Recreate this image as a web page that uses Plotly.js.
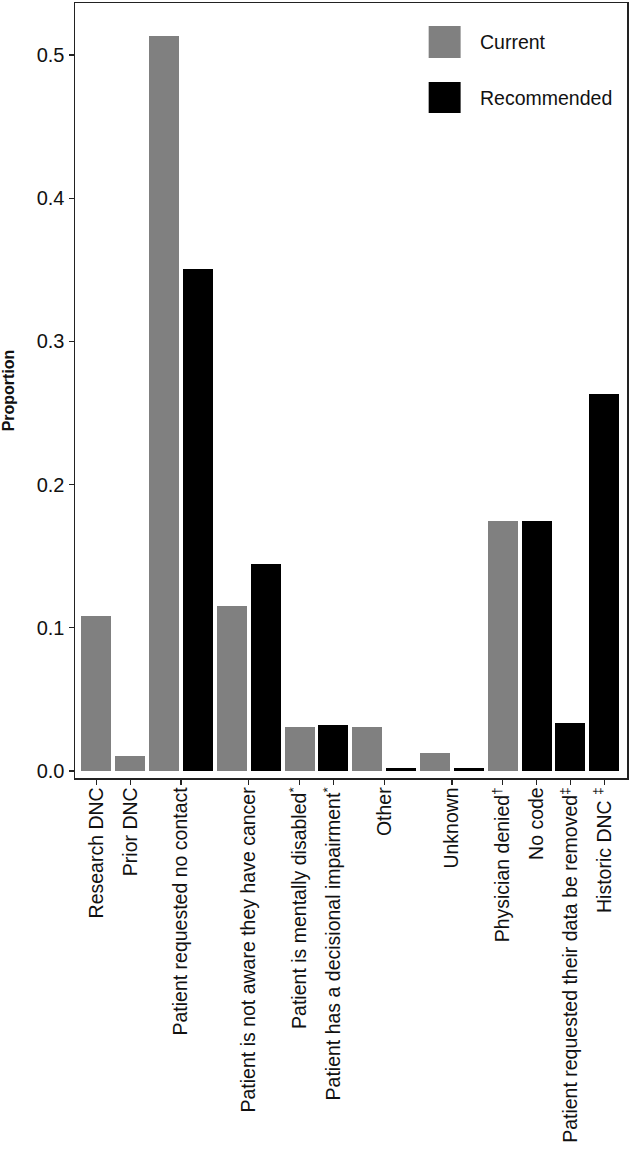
<!DOCTYPE html>
<html>
<head>
<meta charset="utf-8">
<script src="https://cdn.plot.ly/plotly-3.0.1.min.js"></script>
<style>html,body{margin:0;padding:0;background:#fff;}#chart{width:639px;height:1159px;}</style>
</head>
<body>
<div id="chart"></div>
<script>
// Categories (x tick labels)
const categories = [
  "Research DNC",
  "Prior DNC",
  "Patient requested no contact",
  "Patient is not aware they have cancer",
  "Patient is mentally disabled<sup>*</sup>",
  "Patient has a decisional impairment<sup>*</sup>",
  "Other",
  "Unknown",
  "Physician denied<sup>\u2020</sup>",
  "No code",
  "Patient requested their data be removed<sup>\u2021</sup>",
  "Historic DNC <sup>\u2021</sup>"
];
// Series values (null = series has no bar for that category)
const seriesNames = ["Current", "Recommended"];
const current =     [0.108, 0.0105, 0.513, 0.1155, 0.031, null,  0.031, 0.0128, 0.1746, null,   null,   null];
const recommended = [null,  null,   0.3505, 0.1443, null,  0.032, 0.002, 0.002,  null,   0.1746, 0.0337, 0.2633];
const seriesColors = ["#808080", "#000000"];

// Assign consecutive bar slots from the data
const seriesVals = [current, recommended];
const slotX = [[], []], slotY = [[], []];
const tickVals = [];
let slot = 0;
categories.forEach((c, i) => {
  const used = [];
  seriesVals.forEach((vals, s) => {
    if (vals[i] !== null) {
      slotX[s].push(slot); slotY[s].push(vals[i]); used.push(slot); slot++;
    }
  });
  tickVals.push(used.reduce((a, b) => a + b, 0) / used.length);
});

const font = "Liberation Sans, Arial, sans-serif";
const traces = seriesVals.map((v, s) => ({
  type: "bar",
  name: seriesNames[s],
  x: slotX[s],
  y: slotY[s],
  width: 0.885,
  marker: {color: seriesColors[s], line: {width: 0}},
  showlegend: false,
  hoverinfo: "y"
}));

// Custom legend (large swatches)
const legY = [[0.929, 0.9703], [0.858, 0.898]];
const shapes = seriesNames.map((n, s) => ({
  type: "rect", xref: "paper", yref: "paper",
  x0: 0.6407, x1: 0.6986, y0: legY[s][0], y1: legY[s][1],
  fillcolor: seriesColors[s], line: {width: 0}
}));
const annotations = seriesNames.map((n, s) => ({
  xref: "paper", yref: "paper", x: 0.7294, y: (legY[s][0] + legY[s][1]) / 2,
  xanchor: "left", yanchor: "middle", text: n, showarrow: false,
  font: {family: font, size: 19.5, color: "#111"}
}));

const layout = {
  width: 639, height: 1159,
  margin: {l: 75, r: 11.5, t: 3, b: 381},
  paper_bgcolor: "#fff", plot_bgcolor: "#fff",
  font: {family: font, color: "#111"},
  bargap: 0,
  xaxis: {
    range: [-0.63, 15.67],
    tickvals: tickVals, ticktext: categories,
    tickangle: -90,
    ticks: "outside", ticklen: 5, tickwidth: 1.2, tickcolor: "#222",
    ticklabelstandoff: -5,
    showline: true, linecolor: "#222", linewidth: 1.5, mirror: true,
    showgrid: false, zeroline: false,
    tickfont: {family: font, size: 19.5, color: "#111"}
  },
  yaxis: {
    range: [-0.0049, 0.5363],
    tickvals: [0, 0.1, 0.2, 0.3, 0.4, 0.5],
    tickformat: ".1f",
    ticks: "outside", ticklen: 5, tickwidth: 1.2, tickcolor: "#222",
    showline: true, linecolor: "#222", linewidth: 1.5, mirror: true,
    showgrid: false, zeroline: false,
    tickfont: {family: font, size: 20, color: "#111"},
    title: {text: "<b>Proportion</b>", font: {family: font, size: 16, color: "#111"}, standoff: 18}
  },
  shapes: shapes,
  annotations: annotations
};

Plotly.newPlot("chart", traces, layout, {displayModeBar: false, staticPlot: true});
</script>
</body>
</html>
